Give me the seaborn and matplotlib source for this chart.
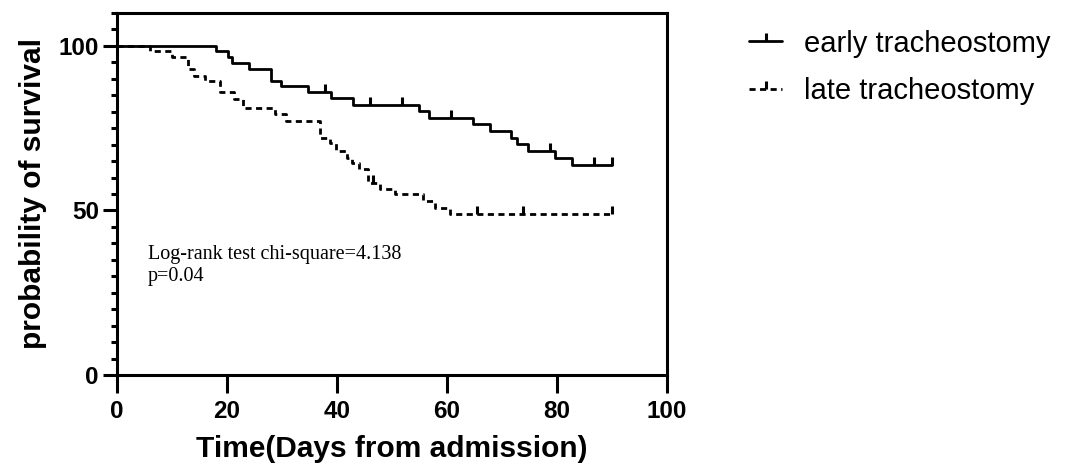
import numpy as np
import pandas as pd
import seaborn as sns
import matplotlib.pyplot as plt
from matplotlib.lines import Line2D
from matplotlib.ticker import MultipleLocator

# Kaplan-Meier steps (time in days, survival in %)
early_t = [0, 18, 20.2, 21, 24, 28, 29.8, 34.8, 39, 43, 54.9, 56.8, 64.7, 67.8, 71.7, 72.7, 74.8, 79.6, 82.7, 90]
early_s = [100, 98.5, 96.7, 94.9, 93, 89.4, 87.7, 86.1, 84.1, 81.9, 80.2, 78.2, 76.2, 74.2, 72.1, 70.1, 68.1, 65.9, 63.9, 63.9]
early_cens_t = [37.8, 46, 51.9, 60.7, 78.7, 86.7, 90]
early_cens_s = [86.1, 81.9, 81.9, 78.2, 68.1, 63.9, 63.9]

late_t = [0, 6, 10, 13, 14, 16, 18.7, 21.2, 23, 28.8, 30.8, 36.9, 38.7, 39.8, 41.8, 42.8, 44, 45.7,
          47.8, 50.5, 55.7, 57.8, 60.5, 90]
late_s = [100, 98.5, 96.5, 93, 91, 89.4, 85.9, 83.8, 81.1, 79.3, 77.2, 72.1, 70.4, 68.1, 66, 64.5, 62.5, 58.4,
          56.4, 54.9, 52.8, 50.8, 48.8, 48.8]
late_cens_t = [46.6, 65.5, 73.8, 90]
late_cens_s = [58.4, 48.8, 48.8, 48.8]

sns.set_style("ticks")
plt.rcParams['font.family'] = ['Liberation Sans', 'DejaVu Sans']
plt.rcParams['text.color'] = 'black'
plt.rcParams['axes.labelcolor'] = 'black'
plt.rcParams['axes.edgecolor'] = 'black'
plt.rcParams['xtick.color'] = 'black'
plt.rcParams['ytick.color'] = 'black'

tick_up = [(0, 0), (0, 1)]
dash = (0, (2.2, 1.6))

fig = plt.figure(figsize=(10.69, 4.76), dpi=100)
ax = fig.add_axes([0.1094, 0.2122, 0.5145, 0.7605])

sns.lineplot(x=early_t, y=early_s, drawstyle='steps-post', color='black', linewidth=2, ax=ax)
sns.lineplot(x=late_t, y=late_s, drawstyle='steps-post', color='black', linewidth=2,
             linestyle=dash, ax=ax)
ax.plot(early_cens_t, early_cens_s, linestyle='none', marker=tick_up, markersize=11,
        markeredgewidth=2.2, color='black')
ax.plot(late_cens_t, late_cens_s, linestyle='none', marker=tick_up, markersize=11,
        markeredgewidth=2.2, color='black')

ax.set_xlim(0, 100)
ax.set_ylim(0, 110)
ax.set_xticks([0, 20, 40, 60, 80, 100])
ax.set_yticks([0, 50, 100])
ax.yaxis.set_minor_locator(MultipleLocator(5))
for s in ax.spines.values():
    s.set_linewidth(2.2)
ax.tick_params(axis='x', which='major', length=13, width=2.2, labelsize=17.5, pad=5)
ax.tick_params(axis='y', which='major', length=10, width=2.2, labelsize=17.5, pad=3)
ax.tick_params(axis='y', which='minor', length=4.5, width=2.2)
for lab in ax.get_xticklabels() + ax.get_yticklabels():
    lab.set_fontweight('bold')

ax.set_xlabel("Time(Days from admission)", fontsize=21.5, fontweight='bold', labelpad=9)
ax.set_ylabel("probability of survival", fontsize=21.5, fontweight='bold', labelpad=8)

ax.text(5.6, 39.6, "Log-rank test chi-square=4.138\np=0.04", fontsize=14.5,
        family=['Liberation Serif', 'DejaVu Serif'], va='top', ha='left', linespacing=1.25)

handles = [
    Line2D([], [], color='black', linewidth=2, marker=tick_up, markersize=11, markeredgewidth=2.2),
    Line2D([], [], color='black', linewidth=2, linestyle=dash, marker=tick_up, markersize=11,
           markeredgewidth=2.2),
]
fig.legend(handles, ["early tracheostomy", "late tracheostomy"], loc='upper left',
           bbox_to_anchor=(0.676, 0.993), frameon=False, fontsize=21, handlelength=1.15,
           handletextpad=0.75, labelspacing=0.66, numpoints=1)

fig.savefig("out.png", dpi=100)
